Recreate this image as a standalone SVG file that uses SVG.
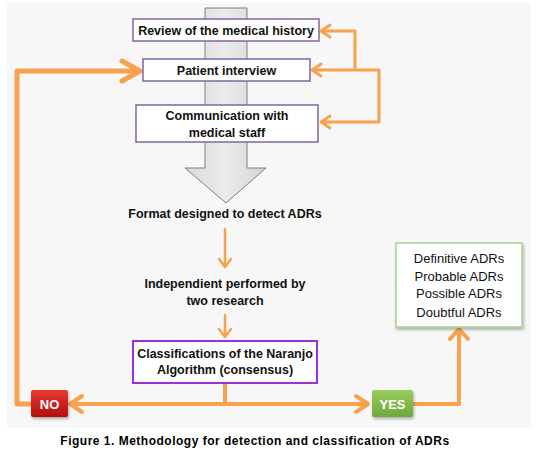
<svg xmlns="http://www.w3.org/2000/svg" width="538" height="458" viewBox="0 0 538 458">
<defs>
<linearGradient id="gbar" x1="0" y1="0" x2="1" y2="0"><stop offset="0" stop-color="#d9d9d9"/><stop offset="0.5" stop-color="#ebebeb"/><stop offset="1" stop-color="#d4d4d4"/></linearGradient>
<linearGradient id="gred" x1="0" y1="0" x2="0" y2="1"><stop offset="0" stop-color="#e83a32"/><stop offset="1" stop-color="#b00e0e"/></linearGradient>
<linearGradient id="ggreen" x1="0" y1="0" x2="0" y2="1"><stop offset="0" stop-color="#98cc5e"/><stop offset="1" stop-color="#6ea83c"/></linearGradient>
<filter id="sh" x="-20%" y="-20%" width="140%" height="150%"><feDropShadow dx="1" dy="2" stdDeviation="1.5" flood-color="#000" flood-opacity="0.3"/></filter>
</defs>
<style>
.t{font-family:"Liberation Sans",Arial,sans-serif;font-size:12.5px;font-weight:bold;fill:#111;text-anchor:middle}
.r{font-family:"Liberation Sans",Arial,sans-serif;font-size:13px;fill:#111;text-anchor:middle}
.w{font-family:"Liberation Sans",Arial,sans-serif;font-size:13px;font-weight:bold;fill:#fff;text-anchor:middle}
.box{fill:#fff;stroke:#8064a2;stroke-width:1.5}
.c{fill:none;stroke:#f8a24e;stroke-linecap:round;stroke-linejoin:round}
</style>
<rect x="7" y="3" width="524" height="425" fill="#f7f7f7"/>
<g id="bigarrow"><path d="M205 8 V168 H185 L226 203 L266 168 H247 V8 Z" fill="url(#gbar)" stroke="#7f7f7f" stroke-width="1"/></g>
<g id="connectors">
<path class="c" stroke-width="3" d="M355 31 H322 M330 25 L321 31 L330 37 M355 31 V70 M379 70 H313 M321 64 L312 70 L321 76 M379 70 V122 H322 M330 116 L321 122 L330 128"/>
<path class="c" stroke-width="5" d="M30 404 H17 V71 H138 M122 61 L140 71 L122 81"/>
<path class="c" stroke-width="2.5" d="M225 229 V266 M219 259 L225 267 L231 259 M225 315 V336 M219 329 L225 337 L231 329"/>
<path class="c" stroke-width="4" d="M225 383 V404 M70 404 H368 M82 396 L70 404 L82 412 M356 396 L368 404 L356 412 M413 404 H459 V331 M450 339 L459 329 L468 339"/>
</g>
<g id="review"><rect class="box" x="133" y="19" width="186" height="22"/><text class="t" x="226" y="34.5">Review of the medical history</text></g>
<g id="patient"><rect class="box" x="143" y="59" width="167" height="22"/><text class="t" x="226.5" y="74.5">Patient interview</text></g>
<g id="communication"><rect class="box" x="136" y="105" width="182" height="37"/><text class="t" x="227" y="119.5">Communication with</text><text class="t" x="227" y="136.5">medical staff</text></g>
<g id="format"><text class="t" x="225" y="217.5">Format designed to detect ADRs</text></g>
<g id="independent"><text class="t" x="225" y="287.5">Independient performed by</text><text class="t" x="225" y="304.5">two research</text></g>
<g id="naranjo"><rect x="133" y="341" width="184" height="42" fill="#fff" stroke="#9b30d9" stroke-width="2"/><text class="t" x="225" y="357.5">Classifications of the Naranjo</text><text class="t" x="225" y="374">Algorithm (consensus)</text></g>
<g id="adrs"><rect x="396" y="243" width="126" height="84" fill="#fff" stroke="#a9d18e" stroke-width="1.5" filter="url(#sh)"/><text class="r" x="459" y="262.5">Definitive ADRs</text><text class="r" x="459" y="280.5">Probable ADRs</text><text class="r" x="459" y="298">Possible ADRs</text><text class="r" x="459" y="316.5">Doubtful ADRs</text></g>
<g id="no"><rect x="31" y="390" width="37" height="27" rx="2" fill="url(#gred)" filter="url(#sh)"/><text class="w" x="49.5" y="408.5">NO</text></g>
<g id="yes"><rect x="372" y="390" width="41" height="27" rx="2" fill="url(#ggreen)" filter="url(#sh)"/><text class="w" x="392.5" y="408.5">YES</text></g>
<text x="255" y="445" style="font-family:'Liberation Sans',Arial,sans-serif;font-size:12px;font-weight:bold;letter-spacing:0.5px;text-anchor:middle;fill:#000">Figure 1. Methodology for detection and classification of ADRs</text>
</svg>
